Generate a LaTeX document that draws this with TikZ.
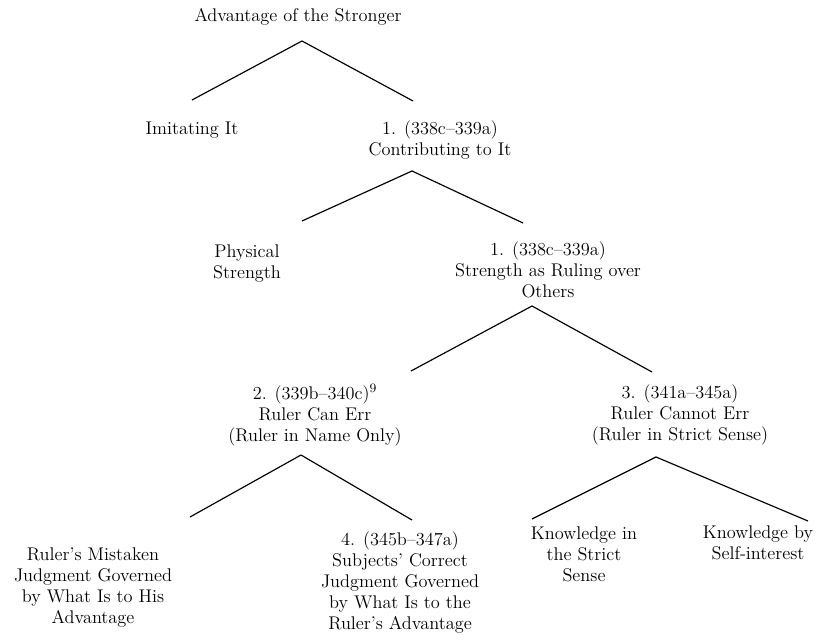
\documentclass[tikz,border=0pt]{standalone}
\usepackage{tikz}
\usetikzlibrary{arrows}
\tikzset{
    %Define style for the topics
    topic/.style={
           inner sep=0pt,
           align=center,
           font=\fontsize{11}{12.6}\selectfont},
    % Define style for the branches
    branch/.style={
           -,
           line width=0.7pt,
           line join=round}
}
\begin{document}
\begin{tikzpicture}[x=0.6pt,y=-0.6pt]
\useasboundingbox (0,0) rectangle (821,643);
% topics
\node[topic] (Adv) at (298,17) {Advantage of the Stronger};
\node[topic] (Imit) at (192,130) {Imitating It};
\node[topic] (Contr) at (440,140) {1. (338c–339a)\\Contributing to It};
\node[topic] (Phys) at (247,264) {Physical\\Strength};
\node[topic] (Rul) at (548,270) {1. (338c–339a)\\Strength as Ruling over\\Others};
\node[topic] (Err) at (315,415) {2. (339b–340c)\textsuperscript{9}\\Ruler Can Err\\(Ruler in Name Only)};
\node[topic] (NoErr) at (680,415) {3. (341a–345a)\\Ruler Cannot Err\\(Ruler in Strict Sense)};
\node[topic] (Mist) at (93,588) {Ruler’s Mistaken\\Judgment Governed\\by What Is to His\\Advantage};
\node[topic] (Subj) at (400,582) {4. (345b–347a)\\Subjects’ Correct\\Judgment Governed\\by What Is to the\\Ruler’s Advantage};
\node[topic] (Strict) at (584,554) {Knowledge in\\the Strict\\Sense};
\node[topic] (Self) at (758,543) {Knowledge by\\Self-interest};
% branch ends
\coordinate (AdvT) at (302,41);
\coordinate (ImitT) at (192,100);
\coordinate (ContrT) at (413,101);
\coordinate (ContrB) at (412,171);
\coordinate (PhysT) at (302,221);
\coordinate (RulT) at (523,223);
\coordinate (RulB) at (532,306);
\coordinate (ErrT) at (411,371);
\coordinate (NoErrT) at (652,372);
\coordinate (ErrB) at (301,455);
\coordinate (MistT) at (190,517);
\coordinate (SubjT) at (412,520);
\coordinate (NoErrB) at (656,457);
\coordinate (StrictT) at (532,519);
\coordinate (SelfT) at (808,521);
\path[branch]
	(AdvT) edge (ImitT) edge (ContrT)
	(ContrB) edge (PhysT) edge (RulT)
	(RulB) edge (ErrT) edge (NoErrT)
	(ErrB) edge (MistT) edge (SubjT)
	(NoErrB) edge (StrictT) edge (SelfT);
\end{tikzpicture}
\end{document}
